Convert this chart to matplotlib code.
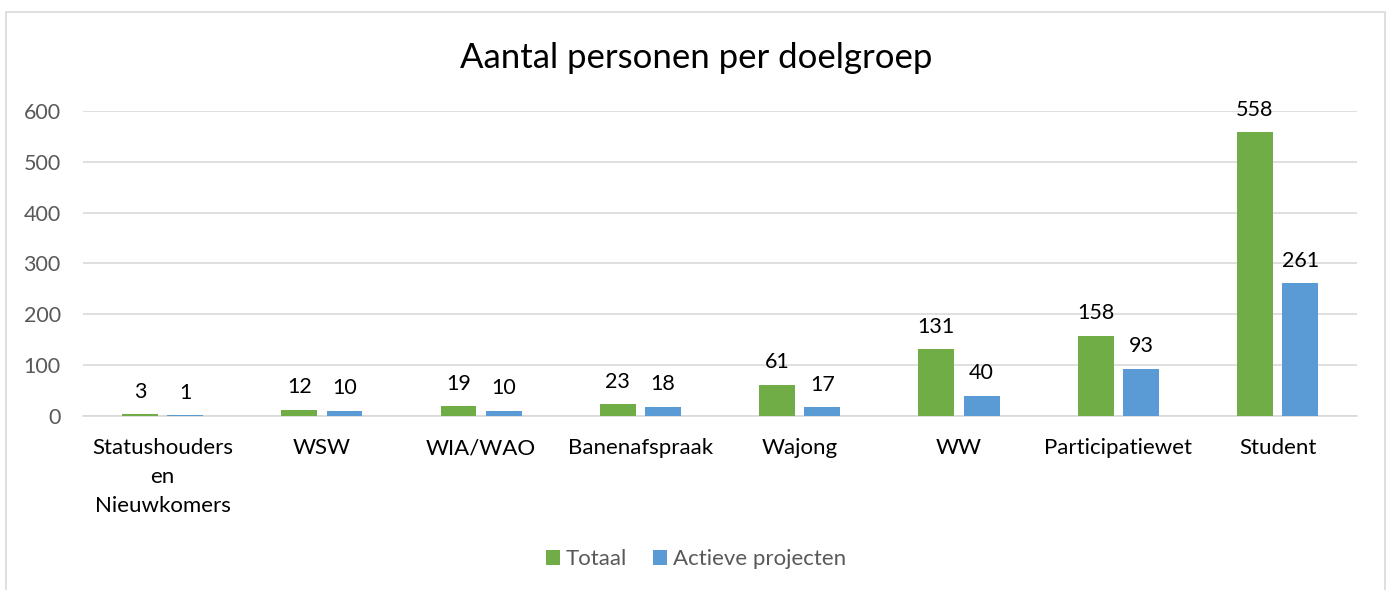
import matplotlib.pyplot as plt
from matplotlib.patches import Rectangle
import numpy as np

plt.rcParams['font.family'] = ['Lato', 'DejaVu Sans']

categories = ["Statushouders\nen\nNieuwkomers", "WSW", "WIA/WAO", "Banenafspraak",
              "Wajong", "WW", "Participatiewet", "Student"]
totaal = [3, 12, 19, 23, 61, 131, 158, 558]
actieve = [1, 10, 10, 18, 17, 40, 93, 261]

green = "#70AD47"
blue = "#5B9BD5"

fig = plt.figure(figsize=(13.92, 5.9), dpi=100)
ax = fig.add_axes([0.0596, 0.295, 0.9154, 0.517])

x = np.arange(len(categories))
w = 0.225
off = 0.142
b1 = ax.bar(x - off, totaal, w, color=green, label="Totaal", zorder=3)
b2 = ax.bar(x + off, actieve, w, color=blue, label="Actieve projecten", zorder=3)

for bars, vals in ((b1, totaal), (b2, actieve)):
    for r, v in zip(bars, vals):
        ax.annotate(str(v), (r.get_x() + r.get_width() / 2, v),
                    xytext=(0, 9), textcoords="offset points",
                    ha="center", va="bottom", fontsize=15.5, color="#000000")

ax.set_xlim(-0.5, len(categories) - 0.5)
ax.set_ylim(0, 600)
ax.set_yticks(range(0, 601, 100))
ax.set_xticks(x)
ax.set_xticklabels(categories, fontsize=16, color="#000000", linespacing=1.57)
ax.tick_params(axis="y", labelsize=15.5, labelcolor="#595959", length=0, pad=16)
ax.tick_params(axis="x", length=0, pad=16)
ax.grid(axis="y", color="#D9D9D9", linewidth=1.2, zorder=0)
for s in ("top", "right", "left"):
    ax.spines[s].set_visible(False)
ax.spines["bottom"].set_color("#D9D9D9")
ax.spines["bottom"].set_linewidth(1.2)

fig.text(0.5, 0.902, "Aantal personen per doelgroep", ha="center", va="center",
         fontsize=25, color="#000000")

fig.legend(loc="center", bbox_to_anchor=(0.5, 0.052), ncol=2, frameon=False,
           fontsize=16, handlelength=0.65, handleheight=0.65, columnspacing=1.15,
           handletextpad=0.25, labelcolor="#595959")

fig.patches.append(Rectangle((6 / 1392, -0.05), 1379 / 1392, 1.05 - 12 / 590,
                             transform=fig.transFigure, fill=False,
                             edgecolor="#D9D9D9", linewidth=1.2))

fig.savefig("out.png", dpi=100)
